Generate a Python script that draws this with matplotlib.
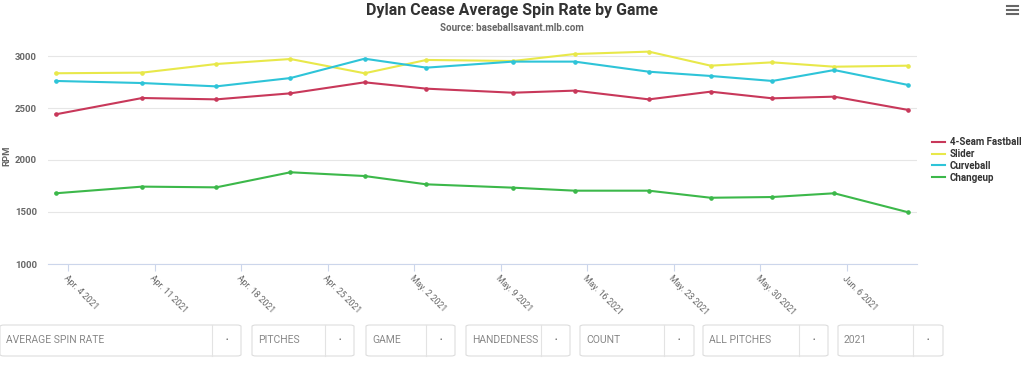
import matplotlib
matplotlib.use("Agg")
import matplotlib.pyplot as plt
import matplotlib.dates as mdates
from matplotlib.patches import FancyBboxPatch
from matplotlib.lines import Line2D
import datetime as dt

plt.rcParams['font.family'] = ['Roboto', 'DejaVu Sans']

# ---- data ----
game_dates = ["2021-04-03", "2021-04-10", "2021-04-16", "2021-04-22", "2021-04-28",
              "2021-05-03", "2021-05-10", "2021-05-15", "2021-05-21", "2021-05-26",
              "2021-05-31", "2021-06-05", "2021-06-11"]
fastball = [2439, 2596, 2583, 2641, 2747, 2686, 2647, 2667, 2583, 2657, 2593, 2609, 2481]
slider = [2834, 2840, 2923, 2971, 2834, 2962, 2952, 3019, 3042, 2907, 2939, 2897, 2907]
curveball = [2760, 2740, 2708, 2788, 2974, 2888, 2946, 2946, 2849, 2808, 2760, 2865, 2721]
changeup = [1680, 1744, 1737, 1882, 1846, 1766, 1734, 1705, 1705, 1637, 1644, 1680, 1497]
series_names = ["4-Seam Fastball", "Slider", "Curveball", "Changeup"]
series_colors = ["#c8385a", "#e8e84a", "#2ec4d8", "#3cb84a"]
tick_dates = ["2021-04-04", "2021-04-11", "2021-04-18", "2021-04-25", "2021-05-02",
              "2021-05-09", "2021-05-16", "2021-05-23", "2021-05-30", "2021-06-06"]
tick_labels = ["Apr. 4 2021", "Apr. 11 2021", "Apr. 18 2021", "Apr. 25 2021", "May. 2 2021",
               "May. 9 2021", "May. 16 2021", "May. 23 2021", "May. 30 2021", "Jun. 6 2021"]
y_ticks = [1000, 1500, 2000, 2500, 3000]
dropdown_labels = ["AVERAGE SPIN RATE", "PITCHES", "GAME", "HANDEDNESS", "COUNT", "ALL PITCHES", "2021"]

W, H = 1024, 367
fig = plt.figure(figsize=(W / 100, H / 100), dpi=100)
fig.patch.set_facecolor("white")

def fx(px):
    return px / W

def fy(py):
    return 1 - py / H

ax = fig.add_axes([fx(48), fy(264), fx(917) - fx(48), fy(45.6) - fy(264)])
xd = [mdates.date2num(dt.datetime.strptime(d, "%Y-%m-%d")) for d in game_dates]
td = [mdates.date2num(dt.datetime.strptime(d, "%Y-%m-%d")) for d in tick_dates]

for vals, name, col in zip([fastball, slider, curveball, changeup], series_names, series_colors):
    ax.plot(xd, vals, color=col, lw=1.5, marker="o", ms=2.3, label=name,
            solid_joinstyle="round", zorder=3)

ax.set_xlim(td[0] - 1.62, td[0] + 68.7)
ax.set_ylim(1000, 3100)
ax.set_yticks(y_ticks)
ax.set_yticklabels([str(v) for v in y_ticks], fontsize=6.8, color="#666666", fontweight="bold")
ax.tick_params(axis="y", length=0, pad=8)
ax.grid(axis="y", color="#e6e6e6", lw=0.8, zorder=0)
ax.set_xticks(td)
ax.set_xticklabels(tick_labels, rotation=-45, ha="left", va="top", rotation_mode="anchor",
                   fontsize=6.2, color="#666666")
ax.tick_params(axis="x", length=5, width=0.8, color="#ccd6eb", pad=2)
for s in ["top", "right", "left"]:
    ax.spines[s].set_visible(False)
ax.spines["bottom"].set_color("#ccd6eb")
ax.spines["bottom"].set_linewidth(0.8)
ax.set_facecolor("white")

fig.text(fx(7), fy(156), "RPM", rotation=90, ha="center", va="center",
         fontsize=6.8, color="#666666", fontweight="bold")

fig.text(fx(512), fy(10), "Dylan Cease Average Spin Rate by Game", ha="center", va="center",
         fontsize=11.5, color="#333333", fontweight="bold")
fig.text(fx(512), fy(28), "Source: baseballsavant.mlb.com", ha="center", va="center",
         fontsize=7, color="#666666", fontweight="bold")

# legend
handles = [Line2D([0], [0], color=c, lw=1.5) for c in series_colors]
leg = fig.legend(handles, series_names, loc="upper left", bbox_to_anchor=(fx(932), fy(137)),
                 frameon=False, fontsize=7, handlelength=1.3, handletextpad=0.5,
                 labelspacing=0.2, borderaxespad=0, borderpad=0)
for t in leg.get_texts():
    t.set_color("#333333")
    t.set_fontweight("bold")

# hamburger menu icon
for yy in [6, 10, 14]:
    fig.add_artist(Line2D([fx(1007), fx(1018)], [fy(yy), fy(yy)], color="#666666", lw=1.5))

# dropdown controls
boxes = [(0, 241, 212), (252, 354, 325), (366, 455, 426), (466, 570, 541),
         (580, 694, 664), (703, 828, 799), (838, 943, 913)]
top, bot = 325, 356
for (x0, x1, xdv), lab in zip(boxes, dropdown_labels):
    p = FancyBboxPatch((fx(x0), fy(bot)), fx(x1) - fx(x0), fy(top) - fy(bot),
                       boxstyle="round,pad=0,rounding_size=0.004", transform=fig.transFigure,
                       facecolor="white", edgecolor="#dddddd", lw=0.8)
    fig.add_artist(p)
    fig.add_artist(Line2D([fx(xdv), fx(xdv)], [fy(top), fy(bot)], color="#e3e3e3", lw=0.8))
    fig.text(fx(x0 + 6), fy(340), lab, ha="left", va="center", fontsize=7.5, color="#888888")
    fig.text(fx((xdv + x1) / 2), fy(340), "\u2022", ha="center", va="center",
             fontsize=5, color="#555555")

fig.savefig("out.png", dpi=100, facecolor="white")
